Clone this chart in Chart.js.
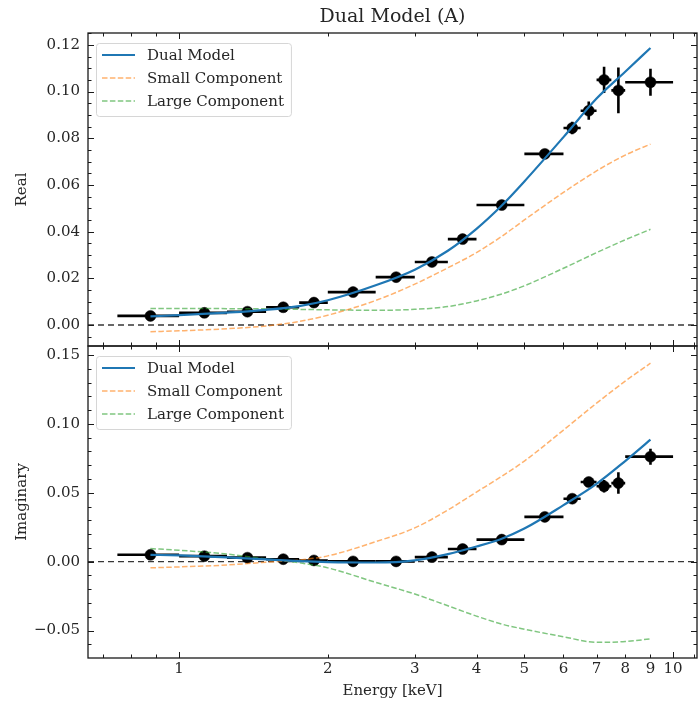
<!DOCTYPE html>
<html><head><meta charset="utf-8">
<script src="https://cdn.jsdelivr.net/npm/chart.js@4.4.1/dist/chart.umd.min.js"></script>
<style>
html,body{margin:0;padding:0;background:#fff;}
#wrap{position:relative;width:700px;height:701px;overflow:hidden;background:#fff;}
#c1{position:absolute;left:0;top:0;}
#c2{position:absolute;left:0;top:340px;}
</style></head><body>
<div id="wrap">
<canvas id="c1" width="700" height="350"></canvas>
<canvas id="c2" width="700" height="361"></canvas>
</div>
<script>
// ---------- data ----------
const binE   = [0.875, 1.125, 1.375, 1.625, 1.875, 2.25, 2.75, 3.25, 3.75, 4.5, 5.5, 6.25, 6.75, 7.25, 7.75, 9.0];
const binLo  = [0.75, 1.0, 1.25, 1.5, 1.75, 2.0, 2.5, 3.0, 3.5, 4.0, 5.0, 6.0, 6.5, 7.0, 7.5, 8.0];
const binHi  = [1.0, 1.25, 1.5, 1.75, 2.0, 2.5, 3.0, 3.5, 4.0, 5.0, 6.0, 6.5, 7.0, 7.5, 8.0, 10.0];
const realVals = [0.0039, 0.0052, 0.0057, 0.0076, 0.0096, 0.0141, 0.0205, 0.0270, 0.0368, 0.0514, 0.0733, 0.0844, 0.0918, 0.1050, 0.1005, 0.1040];
const realErrs = [0.0005, 0.0005, 0.0006, 0.0006, 0.0008, 0.0010, 0.0012, 0.0014, 0.0018, 0.0015, 0.0018, 0.0027, 0.0039, 0.0056, 0.0098, 0.0058];
const imagVals = [0.0050, 0.0040, 0.0029, 0.0018, 0.0009, 0.0002, 0.0002, 0.0033, 0.0092, 0.0160, 0.0325, 0.0457, 0.0578, 0.0547, 0.0570, 0.0762];
const imagErrs = [0.0006, 0.0006, 0.0006, 0.0007, 0.0008, 0.0010, 0.0012, 0.0014, 0.0018, 0.0020, 0.0024, 0.0030, 0.0035, 0.0045, 0.0078, 0.0058];

const modelE    = [0.875, 1.0, 1.25, 1.5, 1.75, 2.0, 2.5, 3.0, 3.5, 4.0, 4.5, 5.0, 6.0, 7.0, 8.0, 9.0];
const realDual  = [0.0037, 0.0042, 0.0053, 0.0065, 0.0081, 0.0106, 0.0170, 0.0237, 0.0318, 0.0412, 0.0512, 0.0615, 0.0805, 0.0970, 0.1085, 0.1187];
const realSmall = [-0.0029, -0.0025, -0.0016, -0.0004, 0.0015, 0.0042, 0.0105, 0.0175, 0.0245, 0.0310, 0.0380, 0.0450, 0.0568, 0.0660, 0.0728, 0.0775];
const realLarge = [0.0071, 0.0071, 0.0070, 0.0069, 0.0067, 0.0065, 0.0063, 0.0067, 0.0079, 0.0103, 0.0133, 0.0168, 0.0243, 0.0310, 0.0365, 0.0410];
const imagDual  = [0.0050, 0.0045, 0.0031, 0.0016, 0.0004, -0.0003, -0.0006, 0.0010, 0.0055, 0.0110, 0.0167, 0.0240, 0.0410, 0.0565, 0.0730, 0.0885];
const imagSmall = [-0.0045, -0.0038, -0.0024, -0.0004, 0.0012, 0.0042, 0.0145, 0.0245, 0.0375, 0.0505, 0.0620, 0.0730, 0.0955, 0.1150, 0.1310, 0.1440];
const imagLarge = [0.0095, 0.0083, 0.0055, 0.0020, -0.0008, -0.0045, -0.0150, -0.0235, -0.0320, -0.0395, -0.0453, -0.0490, -0.0545, -0.0585, -0.0580, -0.0560];

const seriesNames = ['Dual Model', 'Small Component', 'Large Component'];
const xMajorTicks = [1, 10];
const xMinorTicks = [0.7, 0.8, 0.9, 2, 3, 4, 5, 6, 7, 8, 9, 11];
const xTickLabels = [1, 2, 3, 4, 5, 6, 7, 8, 9, 10];
const realTicks = [0.00, 0.02, 0.04, 0.06, 0.08, 0.10, 0.12];
const imagTicks = [-0.05, 0.00, 0.05, 0.10, 0.15];

// ---------- style ----------
const FONT = "'DejaVu Serif', 'Liberation Serif', serif";
const TEXT = '#262626';
const BLUE = '#1f77b4';
const ORANGE = 'rgba(255,127,14,0.6)';
const GREEN = 'rgba(44,160,44,0.6)';
const X_MIN = 0.654, X_MAX = 11.18;

const zip = (xs, ys) => xs.map((x, i) => ({x: x, y: ys[i]}));
const fmtY = v => (v < -1e-12 ? '\u2212' + Math.abs(v).toFixed(2) : Math.abs(v).toFixed(2));
const noPad = s => { s.paddingTop = 0; s.paddingBottom = 0; s.paddingLeft = 0; s.paddingRight = 0; };

const axesDeco = {
  id: 'axesDeco',
  beforeDatasetsDraw(chart, args, o) {
    const {ctx, chartArea: a, scales: {x, y}} = chart;
    ctx.save();
    ctx.beginPath(); ctx.rect(a.left, a.top, a.right - a.left, a.bottom - a.top); ctx.clip();
    const y0 = y.getPixelForValue(0);
    ctx.beginPath();
    ctx.strokeStyle = 'rgba(20,20,20,0.85)'; ctx.lineWidth = 1.35; ctx.setLineDash([6, 4]);
    ctx.moveTo(a.left, y0); ctx.lineTo(a.right, y0); ctx.stroke();
    ctx.setLineDash([]);
    ctx.strokeStyle = '#000'; ctx.lineWidth = 2.6; ctx.lineCap = 'butt';
    for (let i = 0; i < o.xc.length; i++) {
      const py = y.getPixelForValue(o.yv[i]);
      const px = x.getPixelForValue(o.xc[i]);
      ctx.beginPath();
      ctx.moveTo(x.getPixelForValue(o.xlo[i]), py); ctx.lineTo(x.getPixelForValue(o.xhi[i]), py);
      ctx.moveTo(px, y.getPixelForValue(o.yv[i] - o.ye[i])); ctx.lineTo(px, y.getPixelForValue(o.yv[i] + o.ye[i]));
      ctx.stroke();
    }
    ctx.restore();
  },
  afterDraw(chart, args, o) {
    const {ctx, chartArea: a, scales: {x, y}} = chart;
    ctx.save();
    ctx.strokeStyle = '#1a1a1a'; ctx.lineWidth = 1;
    const tick = (x1, y1, x2, y2) => { ctx.beginPath(); ctx.moveTo(x1, y1); ctx.lineTo(x2, y2); ctx.stroke(); };
    o.xMajor.forEach(v => { const p = Math.round(x.getPixelForValue(v)) + 0.5; tick(p, a.bottom, p, a.bottom - 6); tick(p, a.top, p, a.top + 6); });
    o.xMinor.forEach(v => { const p = Math.round(x.getPixelForValue(v)) + 0.5; if (p > a.right) return; tick(p, a.bottom, p, a.bottom - 3.5); tick(p, a.top, p, a.top + 3.5); });
    const ymin = y.min, ymax = y.max, st = o.yMinorStep;
    for (let k = Math.ceil(ymin / st); k * st <= ymax; k++) {
      const v = k * st;
      const isMajor = o.yMajor.some(m => Math.abs(m - v) < st / 10);
      const len = isMajor ? 6 : 3.5;
      const p = Math.round(y.getPixelForValue(v)) + 0.5;
      tick(a.left, p, a.left + len, p); tick(a.right, p, a.right - len, p);
    }
    ctx.lineWidth = 1.3; ctx.strokeStyle = '#1a1a1a';
    ctx.strokeRect(a.left, a.top, a.right - a.left, a.bottom - a.top);
    // legend built from the datasets
    const items = chart.data.datasets.filter(d => d.inLegend);
    ctx.font = '15px ' + FONT;
    const tx = a.left + 59;
    const maxW = Math.max(...items.map(d => ctx.measureText(d.label).width));
    const L = a.left + 8, T = a.top + 10, W = tx + maxW + 7 - L, H = 73;
    ctx.beginPath();
    if (ctx.roundRect) ctx.roundRect(L + 0.5, T + 0.5, W, H, 3); else ctx.rect(L + 0.5, T + 0.5, W, H);
    ctx.fillStyle = 'rgba(255,255,255,0.8)'; ctx.fill();
    ctx.strokeStyle = '#d6d6d6'; ctx.lineWidth = 1; ctx.stroke();
    items.forEach((d, i) => {
      const yy = a.top + 22 + i * 23;
      ctx.beginPath();
      ctx.strokeStyle = d.borderColor; ctx.lineWidth = d.borderWidth; ctx.setLineDash(d.borderDash || []);
      ctx.moveTo(a.left + 14, yy); ctx.lineTo(a.left + 47, yy); ctx.stroke();
      ctx.setLineDash([]);
      ctx.fillStyle = TEXT; ctx.textAlign = 'left'; ctx.textBaseline = 'middle';
      ctx.fillText(d.label, tx, yy + 1);
    });
    ctx.restore();
  }
};

function modelSets(dual, small, large, dataY) {
  return [
    {label: seriesNames[0], data: zip(modelE, dual), borderColor: BLUE, borderWidth: 2.2, pointRadius: 0, fill: false, cubicInterpolationMode: 'monotone', inLegend: true},
    {label: seriesNames[1], data: zip(modelE, small), borderColor: ORANGE, borderWidth: 1.5, borderDash: [5.5, 2.4], pointRadius: 0, fill: false, cubicInterpolationMode: 'monotone', inLegend: true},
    {label: seriesNames[2], data: zip(modelE, large), borderColor: GREEN, borderWidth: 1.5, borderDash: [5.5, 2.4], pointRadius: 0, fill: false, cubicInterpolationMode: 'monotone', inLegend: true},
    {label: 'Data', data: zip(binE, dataY), showLine: false, pointRadius: 5.5, pointBackgroundColor: '#000', pointBorderColor: '#000', pointBorderWidth: 0.5}
  ];
}

const tickFont = {family: FONT, size: 15};

new Chart(document.getElementById('c1'), {
  type: 'line',
  data: {datasets: modelSets(realDual, realSmall, realLarge, realVals)},
  options: {
    responsive: false, animation: false, events: [],
    layout: {autoPadding: false, padding: {left: 0, right: 3, top: 0, bottom: 4}},
    plugins: {
      legend: {display: false}, tooltip: {enabled: false},
      title: {display: true, text: 'Dual Model (A)', fullSize: false, color: TEXT, font: {family: FONT, size: 19, weight: 'normal'}, padding: {top: 5.5, bottom: 4.7}},
      axesDeco: {xc: binE, xlo: binLo, xhi: binHi, yv: realVals, ye: realErrs, xMajor: xMajorTicks, xMinor: xMinorTicks, yMajor: realTicks, yMinorStep: 0.005}
    },
    scales: {
      x: {type: 'logarithmic', min: X_MIN, max: X_MAX, ticks: {display: false}, grid: {display: false, drawTicks: false}, border: {display: false}, afterFit: s => { s.height = 0; noPad(s); }},
      y: {type: 'linear', min: -0.0090, max: 0.1251,
          afterBuildTicks: s => { s.ticks = realTicks.map(v => ({value: v})); },
          ticks: {callback: v => fmtY(v), font: tickFont, color: TEXT, padding: 8, autoSkip: false},
          grid: {display: false, drawTicks: false}, border: {display: false},
          title: {display: true, text: 'Real', color: TEXT, font: tickFont, padding: {top: 13, bottom: 0}},
          afterFit: s => { s.width = 88; noPad(s); }}
    }
  },
  plugins: [axesDeco]
});

new Chart(document.getElementById('c2'), {
  type: 'line',
  data: {datasets: modelSets(imagDual, imagSmall, imagLarge, imagVals)},
  options: {
    responsive: false, animation: false, events: [],
    layout: {autoPadding: false, padding: {left: 0, right: 3, top: 6, bottom: 0}},
    plugins: {
      legend: {display: false}, tooltip: {enabled: false},
      axesDeco: {xc: binE, xlo: binLo, xhi: binHi, yv: imagVals, ye: imagErrs, xMajor: xMajorTicks, xMinor: xMinorTicks, yMajor: imagTicks, yMinorStep: 0.01}
    },
    scales: {
      x: {type: 'logarithmic', min: X_MIN, max: X_MAX,
          afterBuildTicks: s => { s.ticks = xTickLabels.map(v => ({value: v})); },
          ticks: {callback: v => String(v), font: tickFont, color: TEXT, padding: 2, autoSkip: false, maxRotation: 0},
          grid: {display: false, drawTicks: false}, border: {display: false},
          title: {display: true, text: 'Energy [keV]', color: TEXT, font: tickFont, padding: {top: 0, bottom: 1}},
          afterFit: s => { s.height = 43; noPad(s); }},
      y: {type: 'linear', min: -0.0699, max: 0.1565,
          afterBuildTicks: s => { s.ticks = imagTicks.map(v => ({value: v})); },
          ticks: {callback: v => fmtY(v), font: tickFont, color: TEXT, padding: 8, autoSkip: false},
          grid: {display: false, drawTicks: false}, border: {display: false},
          title: {display: true, text: 'Imaginary', color: TEXT, font: tickFont, padding: {top: 13, bottom: 0}},
          afterFit: s => { s.width = 88; noPad(s); }}
    }
  },
  plugins: [axesDeco]
});
</script>
</body></html>
